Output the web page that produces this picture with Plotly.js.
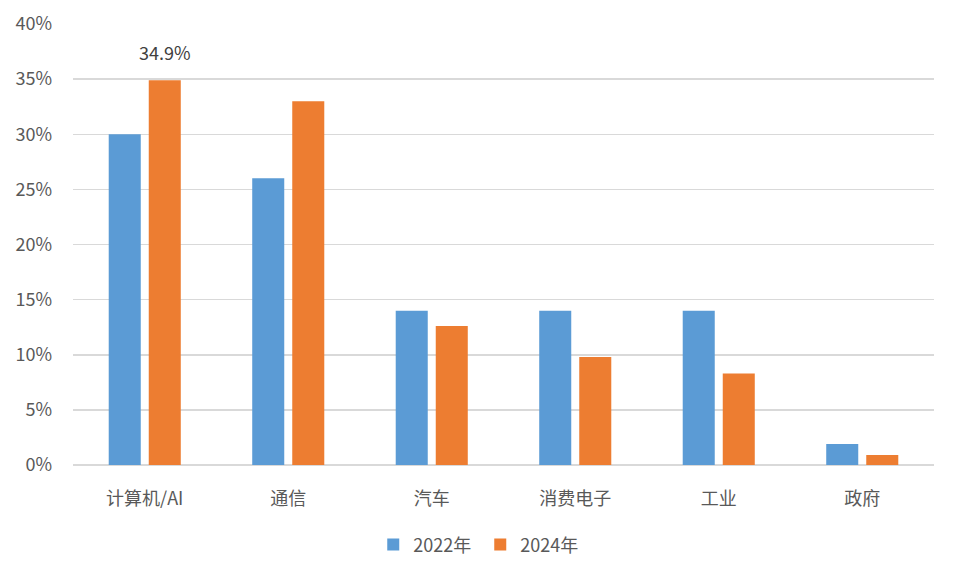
<!DOCTYPE html>
<html>
<head>
<meta charset="utf-8">
<script src="https://cdn.plot.ly/plotly-3.0.1.min.js"></script>
<style>html,body{margin:0;padding:0;background:#fff;}#chart{width:957px;height:579px;}</style>
</head>
<body>
<div id="chart"></div>
<script>
var categories = ["计算机/AI", "通信", "汽车", "消费电子", "工业", "政府"];
var series2022 = [30.0, 26.0, 14.0, 14.0, 14.0, 1.9];
var series2024 = [34.9, 33.0, 12.6, 9.8, 8.3, 0.9];
var seriesNames = ["2022年", "2024年"];
var yTickVals = [0, 5, 10, 15, 20, 25, 30, 35, 40];
var yTickText = ["0%", "5%", "10%", "15%", "20%", "25%", "30%", "35%", "40%"];

var font = "'Noto Sans CJK SC', 'Noto Sans', sans-serif";
var traces = [
  {type: "bar", name: seriesNames[0], x: categories, y: series2022, marker: {color: "#5B9BD5"}, hoverinfo: "none"},
  {type: "bar", name: seriesNames[1], x: categories, y: series2024, marker: {color: "#ED7D31"}, hoverinfo: "none"}
];
var layout = {
  width: 957, height: 579,
  margin: {l: 73, r: 23, t: 24, b: 114},
  paper_bgcolor: "#fff", plot_bgcolor: "#fff",
  barmode: "group", bargap: 0.442, bargroupgap: 0.2,
  font: {family: font, size: 18, color: "#595959"},
  xaxis: {
    type: "category", showgrid: false, zeroline: false, showline: false,
    ticks: "", ticklabelstandoff: 21,
    tickfont: {family: font, size: 18, color: "#595959"}
  },
  yaxis: {
    range: [0, 40], tickvals: yTickVals, ticktext: yTickText,
    showgrid: true, gridcolor: "#d9d9d9", gridwidth: 1.5,
    zeroline: true, zerolinecolor: "#d9d9d9", zerolinewidth: 1.5,
    showline: false, ticks: "", ticklabelstandoff: 20,
    tickfont: {family: font, size: 18, color: "#595959"}
  },
  legend: {
    orientation: "h", x: 0.473, xanchor: "center", y: -0.181, yanchor: "middle",
    font: {family: font, size: 18, color: "#595959"}, itemwidth: 30, traceorder: "normal",
    entrywidth: 62, entrywidthmode: "pixels"
  },
  annotations: [{
    x: categories[0], y: series2024[0], xref: "x", yref: "y",
    text: "34.9%", showarrow: false, yanchor: "bottom", yshift: 13, xshift: 20,
    font: {family: font, size: 18, color: "#404040"}
  }],
  showlegend: true
};
Plotly.newPlot("chart", traces, layout, {staticPlot: true, displayModeBar: false});
</script>
</body>
</html>
